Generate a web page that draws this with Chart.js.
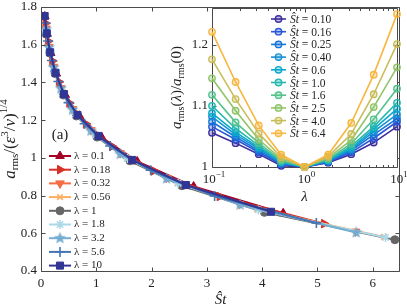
<!DOCTYPE html>
<html><head><meta charset="utf-8">
<script src="https://cdn.jsdelivr.net/npm/chart.js@4/dist/chart.umd.min.js"></script>
<style>
html,body{margin:0;padding:0;background:#fff;}
#wrap{position:relative;width:407px;height:308px;overflow:hidden;}
canvas{position:absolute;left:0;top:0;}
</style>
</head><body>
<div id="wrap"><canvas id="main" width="407" height="308"></canvas><canvas id="inset" width="407" height="308"></canvas></div>
<script>
// ---------- main panel data: a_rms/(eps^3/nu)^(1/4) vs St-hat for each lambda ----------
const lambdaLabels = ['0.1','0.18','0.32','0.56','1','1.8','3.2','5.6','10'];
const st_l0_1  = [0.0694,0.110,0.174,0.276,0.438,0.694,1.10,1.74,2.76,4.38];
const a_l0_1   = [1.750,1.658,1.556,1.447,1.334,1.223,1.108,0.981,0.848,0.706];
const st_l0_18 = [0.0812,0.1286,0.204,0.323,0.512,0.812,1.286,2.04,3.23,5.12];
const a_l0_18  = [1.714,1.619,1.514,1.403,1.291,1.180,1.061,0.931,0.795,0.651];
const st_l0_32 = [0.0902,0.1429,0.2265,0.359,0.569,0.902,1.429,2.265,3.59,5.69];
const a_l0_32  = [1.686,1.589,1.483,1.370,1.259,1.147,1.025,0.894,0.755,0.609];
const st_l0_56 = [0.0983,0.1557,0.247,0.391,0.620,0.983,1.557,2.47,3.91,6.2];
const a_l0_56  = [1.667,1.568,1.460,1.347,1.236,1.124,0.999,0.867,0.727,0.581];
const st_l1    = [0.1014,0.161,0.255,0.404,0.640,1.014,1.608,2.548,4.04,6.4];
const a_l1     = [1.655,1.555,1.447,1.333,1.222,1.110,0.984,0.852,0.711,0.566];
const st_l1_8  = [0.0988,0.1565,0.248,0.393,0.623,0.987,1.565,2.48,3.93,6.23];
const a_l1_8   = [1.665,1.565,1.457,1.345,1.233,1.121,0.996,0.865,0.724,0.578];
const st_l3_2  = [0.0903,0.1432,0.227,0.360,0.570,0.903,1.432,2.27,3.60,5.7];
const a_l3_2   = [1.682,1.585,1.479,1.367,1.255,1.143,1.020,0.890,0.751,0.604];
const st_l5_6  = [0.0789,0.1251,0.198,0.314,0.498,0.789,1.251,1.983,3.14,4.98];
const a_l5_6   = [1.715,1.620,1.516,1.405,1.293,1.181,1.063,0.934,0.798,0.655];
const st_l10   = [0.066,0.105,0.166,0.263,0.416,0.66,1.04,1.65,2.62,4.16];
const a_l10    = [1.752,1.660,1.560,1.451,1.338,1.227,1.116,0.989,0.856,0.714];
const mainX = [st_l0_1,st_l0_18,st_l0_32,st_l0_56,st_l1,st_l1_8,st_l3_2,st_l5_6,st_l10];
const mainY = [a_l0_1,a_l0_18,a_l0_32,a_l0_56,a_l1,a_l1_8,a_l3_2,a_l5_6,a_l10];
const mainXTicks = [0,1,2,3,4,5,6];
const mainYTicks = [0.4,0.6,0.8,1,1.2,1.4,1.6,1.8];

// ---------- inset data: a_rms(lambda)/a_rms(0) vs lambda for each St-hat ----------
const insetLambda = [0.1,0.18,0.32,0.56,1,1.8,3.2,5.6,10];
const insetStLabels = ['0.10','0.16','0.25','0.40','0.6','1.0','1.6','2.5','4.0','6.4'];
const r_st0_10 = [1.056,1.039,1.021,1.002,1,1.007,1.021,1.040,1.066];
const r_st0_16 = [1.066,1.045,1.024,1.004,1,1.008,1.024,1.047,1.074];
const r_st0_25 = [1.074,1.049,1.027,1.006,1,1.009,1.027,1.053,1.079];
const r_st0_40 = [1.082,1.053,1.030,1.007,1,1.010,1.029,1.058,1.086];
const r_st0_6  = [1.088,1.057,1.032,1.008,1,1.011,1.031,1.062,1.095];
const r_st1_0  = [1.100,1.063,1.035,1.009,1,1.012,1.034,1.066,1.105];
const r_st1_6  = [1.118,1.073,1.039,1.011,1,1.013,1.038,1.078,1.128];
const r_st2_5  = [1.145,1.092,1.045,1.013,1,1.015,1.044,1.098,1.163];
const r_st4_0  = [1.176,1.111,1.055,1.016,1,1.017,1.054,1.119,1.201];
const r_st6_4  = [1.221,1.139,1.068,1.020,1,1.020,1.072,1.151,1.250];
const insetY = [r_st0_10,r_st0_16,r_st0_25,r_st0_40,r_st0_6,r_st1_0,r_st1_6,r_st2_5,r_st4_0,r_st6_4];
const insetYTicks = [1,1.1,1.2];
const insetXTicks = [0.1,1,10];
const insetXTickExp = ['−1','0','1'];

// ---------- styles ----------
const SERIF = '"Liberation Serif","DejaVu Serif",serif';
const mainColors = ['#a50026','#d73027','#f46d43','#fdae61','#666666','#abd9e9','#74add1','#4575b4','#313695'];
const insetColors = ['#3d2f9c','#2b56d6','#1674d8','#1890d6','#0ba9cc','#26b8b0','#55c28e','#90c46a','#c9bd5a','#f8b63e'];

function pentagram(color, r){
  const s = Math.ceil(2*r+2), c = document.createElement('canvas');
  c.width = c.height = s;
  const g = c.getContext('2d');
  g.beginPath();
  for (let i=0;i<10;i++){
    const rad = i%2 ? r*0.42 : r, a = -Math.PI/2 + i*Math.PI/5;
    g.lineTo(s/2+rad*Math.cos(a), s/2+rad*Math.sin(a));
  }
  g.closePath(); g.fillStyle = color; g.fill();
  return c;
}
function tint(hex, alpha){
  const n = parseInt(hex.slice(1),16);
  return 'rgba(' + (n>>16) + ',' + ((n>>8)&255) + ',' + (n&255) + ',' + alpha + ')';
}
const mainMarkers = [
  {pointStyle:'triangle', rotation:0,   radius:5,   bw:1},
  {pointStyle:'triangle', rotation:90,  radius:5,   bw:1},
  {pointStyle:'triangle', rotation:180, radius:5,   bw:1},
  {pointStyle:'crossRot', rotation:0,   radius:4,   bw:1.6},
  {pointStyle:'circle',   rotation:0,   radius:4,   bw:1},
  {pointStyle:'star',     rotation:0,   radius:4.5, bw:1.5},
  {pointStyle:pentagram(mainColors[6],6.5), rotation:0, radius:6, bw:0},
  {pointStyle:'cross',    rotation:0,   radius:5,   bw:1.6},
  {pointStyle:'rect',     rotation:0,   radius:5,   bw:1}
];

function drawRich(ctx, segs, x, y){
  let total = 0;
  segs.forEach(s => { ctx.font = (s.it?'italic ':'') + s.s + 'px ' + SERIF; s.w = ctx.measureText(s.t).width; total += s.w; });
  let cx = x - total/2;
  ctx.textAlign = 'left'; ctx.textBaseline = 'alphabetic';
  segs.forEach(s => { ctx.font = (s.it?'italic ':'') + s.s + 'px ' + SERIF; ctx.fillText(s.t, cx, y + (s.dy||0)); cx += s.w; });
}
function crisp(v){ return Math.round(v) + 0.5; }

// ---------- main chart ----------
const mainDatasets = lambdaLabels.map((lab,i) => ({
  label: 'λ = ' + lab,
  data: mainX[i].map((x,j) => ({x:x, y:mainY[i][j]})),
  borderColor: mainColors[i], backgroundColor: mainColors[i],
  pointBackgroundColor: mainColors[i], pointBorderColor: mainColors[i],
  pointStyle: mainMarkers[i].pointStyle, pointRotation: mainMarkers[i].rotation,
  pointRadius: mainMarkers[i].radius, pointBorderWidth: mainMarkers[i].bw,
  borderWidth: 2, showLine: true, fill: false, tension: 0,
  order: lambdaLabels.length - 1 - i
}));

const mainDeco = {
  id: 'mainDeco',
  afterDraw(chart){
    const ctx = chart.ctx, a = chart.chartArea, xs = chart.scales.x, ys = chart.scales.y;
    ctx.save();
    ctx.strokeStyle = '#4a4a4a'; ctx.lineWidth = 1;
    const L = crisp(a.left), R = crisp(a.right-1), T = crisp(a.top), B = crisp(a.bottom);
    ctx.beginPath(); ctx.rect(L, T, R-L, B-T); ctx.stroke();
    ctx.beginPath();
    mainXTicks.forEach(v => { const p = crisp(xs.getPixelForValue(v)); ctx.moveTo(p,B); ctx.lineTo(p,B-4); ctx.moveTo(p,T); ctx.lineTo(p,T+4); });
    mainYTicks.forEach(v => { const p = crisp(ys.getPixelForValue(v)); ctx.moveTo(L,p); ctx.lineTo(L+4,p); ctx.moveTo(R,p); ctx.lineTo(R-4,p); });
    ctx.stroke();
    // tick labels
    ctx.fillStyle = '#222'; ctx.font = '13px ' + SERIF;
    ctx.textAlign = 'center'; ctx.textBaseline = 'middle';
    mainXTicks.forEach(v => ctx.fillText(String(v), xs.getPixelForValue(v), a.bottom + 13));
    ctx.textAlign = 'right';
    mainYTicks.forEach(v => ctx.fillText(String(v), a.left - 4, ys.getPixelForValue(v)));
    // axis titles
    drawRich(ctx, [{t:'Ŝt', it:true, s:15}], (a.left+a.right)/2, 304);
    ctx.save(); ctx.translate(15, (a.top+a.bottom)/2); ctx.rotate(-Math.PI/2);
    drawRich(ctx, [{t:'a',it:true,s:17},{t:'rms',s:11,dy:3},{t:'/(',s:17},{t:'ε',it:true,s:17},{t:'3',s:11,dy:-7},{t:'/',s:17},{t:'ν',it:true,s:17},{t:')',s:17},{t:'1/4',s:11,dy:-8}], 0, 0);
    ctx.restore();
    // panel tag
    drawRich(ctx, [{t:'(a)', s:15}], 60, 139);
    // legend
    chart.data.datasets.forEach((ds,i) => {
      const y = 156 + i*13.7;
      ctx.strokeStyle = ds.borderColor; ctx.lineWidth = 2;
      ctx.beginPath(); ctx.moveTo(49,y); ctx.lineTo(71,y); ctx.stroke();
      ctx.fillStyle = ds.pointBackgroundColor; ctx.strokeStyle = ds.pointBorderColor; ctx.lineWidth = ds.pointBorderWidth;
      Chart.helpers.drawPoint(ctx, {pointStyle: ds.pointStyle, rotation: ds.pointRotation, radius: ds.pointRadius, borderWidth: ds.pointBorderWidth}, 60, y);
      ctx.fillStyle = '#222'; ctx.font = '11px ' + SERIF; ctx.textAlign = 'left'; ctx.textBaseline = 'middle';
      ctx.fillText(ds.label, 74, y);
    });
    ctx.restore();
  }
};

new Chart(document.getElementById('main'), {
  type: 'line',
  data: { datasets: mainDatasets },
  options: {
    responsive: false, animation: false, devicePixelRatio: 1,
    layout: { padding: { left: 41, right: 1, top: 7, bottom: 37 } },
    plugins: { legend: { display: false }, tooltip: { enabled: false } },
    scales: {
      x: { type: 'linear', min: 0, max: 6.5, display: false },
      y: { type: 'linear', min: 0.4, max: 1.8, display: false }
    }
  },
  plugins: [mainDeco]
});

// ---------- inset chart ----------
const insetDatasets = insetStLabels.map((lab,i) => ({
  label: lab,
  data: insetLambda.map((l,j) => ({x:l, y:insetY[i][j]})),
  borderColor: insetColors[i], backgroundColor: insetColors[i],
  pointBackgroundColor: tint(insetColors[i], 0.3), pointBorderColor: insetColors[i],
  pointStyle: 'circle', pointRadius: 3.2, pointBorderWidth: 1.4,
  borderWidth: 1.6, showLine: true, fill: false, tension: 0, clip: false,
  order: insetStLabels.length - 1 - i
}));

const insetDeco = {
  id: 'insetDeco',
  beforeDraw(chart){
    const ctx = chart.ctx, a = chart.chartArea;
    ctx.save(); ctx.fillStyle = '#fff'; ctx.fillRect(a.left, a.top, a.right-a.left, a.bottom-a.top); ctx.restore();
  },
  beforeDatasetsDraw(chart){
    const ctx = chart.ctx, a = chart.chartArea, xs = chart.scales.x, ys = chart.scales.y;
    ctx.save();
    ctx.strokeStyle = '#4a4a4a'; ctx.lineWidth = 1;
    const L = crisp(a.left), R = crisp(a.right), T = crisp(a.top), B = crisp(a.bottom);
    ctx.beginPath(); ctx.rect(L, T, R-L, B-T); ctx.stroke();
    ctx.beginPath();
    [0.1,1].forEach(dec => { for (let k=1;k<10;k++){ const p = crisp(xs.getPixelForValue(dec*k)); const len = k===1?4:2.5; ctx.moveTo(p,B); ctx.lineTo(p,B-len); ctx.moveTo(p,T); ctx.lineTo(p,T+len);} });
    insetYTicks.forEach(v => { const p = crisp(ys.getPixelForValue(v)); ctx.moveTo(L,p); ctx.lineTo(L+4,p); ctx.moveTo(R,p); ctx.lineTo(R-4,p); });
    ctx.stroke();
    ctx.restore();
  },
  afterDraw(chart){
    const ctx = chart.ctx, a = chart.chartArea, xs = chart.scales.x, ys = chart.scales.y;
    ctx.save();
    ctx.fillStyle = '#222';
    ctx.font = '13px ' + SERIF; ctx.textAlign = 'right'; ctx.textBaseline = 'middle';
    insetYTicks.forEach(v => ctx.fillText(String(v), a.left - 4, ys.getPixelForValue(v)));
    insetXTicks.forEach((v,i) => drawRich(ctx, [{t:'10',s:13},{t:insetXTickExp[i],s:9,dy:-6}], xs.getPixelForValue(v)+2, a.bottom + 16));
    drawRich(ctx, [{t:'λ', it:true, s:15}], (a.left+a.right)/2, 201);
    ctx.save(); ctx.translate(181, (a.top+a.bottom)/2); ctx.rotate(-Math.PI/2);
    drawRich(ctx, [{t:'a',it:true,s:15},{t:'rms',s:10,dy:3},{t:'(',s:15},{t:'λ',it:true,s:15},{t:')/',s:15},{t:'a',it:true,s:15},{t:'rms',s:10,dy:3},{t:'(0)',s:15}], 0, 0);
    ctx.restore();
    // legend
    chart.data.datasets.forEach((ds,i) => {
      const y = 19 + i*12.7;
      ctx.strokeStyle = ds.borderColor; ctx.lineWidth = 1.6;
      ctx.beginPath(); ctx.moveTo(271,y); ctx.lineTo(286,y); ctx.stroke();
      ctx.fillStyle = ds.pointBackgroundColor; ctx.strokeStyle = ds.borderColor; ctx.lineWidth = 1.4;
      Chart.helpers.drawPoint(ctx, {pointStyle:'circle', radius:3.2, borderWidth:1.4}, 278.5, y);
      ctx.fillStyle = '#222';
      const segs = [{t:'Ŝt', it:true, s:11.5},{t:' = ' + ds.label, s:11.5}];
      ctx.font = 'italic 11.5px ' + SERIF; const w1 = ctx.measureText('Ŝt').width;
      ctx.font = '11.5px ' + SERIF; const w2 = ctx.measureText(' = ' + ds.label).width;
      drawRich(ctx, segs, 290 + (w1+w2)/2, y + 4);
    });
    ctx.restore();
  }
};

new Chart(document.getElementById('inset'), {
  type: 'line',
  data: { datasets: insetDatasets },
  options: {
    responsive: false, animation: false, devicePixelRatio: 1,
    layout: { padding: { left: 212, right: 10, top: 8, bottom: 141 } },
    plugins: { legend: { display: false }, tooltip: { enabled: false } },
    scales: {
      x: { type: 'logarithmic', min: 0.1, max: 10, display: false },
      y: { type: 'linear', min: 1, max: 1.26, display: false }
    }
  },
  plugins: [insetDeco]
});
</script>
</body></html>
